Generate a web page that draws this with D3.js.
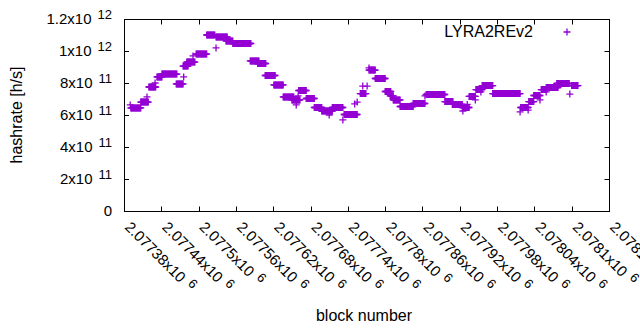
<!DOCTYPE html>
<html>
<head>
<meta charset="utf-8">
<script src="https://cdn.jsdelivr.net/npm/d3@7"></script>
<style>
    body { margin: 0; background: #fff; }
    svg { display: block; font-family: 'Liberation Sans', Arial, sans-serif; }
</style>
</head>
<body>
<svg id="chart" width="640" height="330"></svg>
<script>
'use strict';

// hashrate runs: from block, to block, rate [h/s]
const runFrom = [
    2077390, 2077391, 2077407, 2077417, 2077420, 2077430, 2077433, 2077441, 2077464, 2077476,
    2077475, 2077481, 2077491, 2077496, 2077513, 2077528, 2077528, 2077544, 2077555, 2077583,
    2077595, 2077607, 2077621, 2077636, 2077650, 2077657, 2077660, 2077661, 2077673, 2077686,
    2077698, 2077710, 2077715, 2077732, 2077734, 2077751, 2077755, 2077760, 2077764, 2077771,
    2077774, 2077774, 2077784, 2077800, 2077808, 2077813, 2077824, 2077845, 2077864, 2077866,
    2077896, 2077908, 2077924, 2077925, 2077932, 2077935, 2077945, 2077946, 2077954, 2077957,
    2077956, 2077973, 2078017, 2078018, 2078030, 2078031, 2078039, 2078049, 2078051, 2078059,
    2078059, 2078076, 2078097, 2078100
];
const runTo = [
    2077390, 2077407, 2077419, 2077417, 2077431, 2077430, 2077441, 2077465, 2077475, 2077476,
    2077483, 2077494, 2077491, 2077513, 2077526, 2077528, 2077546, 2077555, 2077584, 2077597,
    2077608, 2077623, 2077636, 2077653, 2077663, 2077657, 2077660, 2077673, 2077686, 2077698,
    2077715, 2077710, 2077732, 2077732, 2077755, 2077751, 2077755, 2077769, 2077764, 2077771,
    2077774, 2077784, 2077800, 2077809, 2077813, 2077824, 2077845, 2077864, 2077864, 2077896,
    2077909, 2077924, 2077935, 2077925, 2077932, 2077945, 2077945, 2077956, 2077954, 2077957,
    2077973, 2078017, 2078017, 2078030, 2078030, 2078039, 2078049, 2078049, 2078060, 2078059,
    2078078, 2078096, 2078097, 2078110
];
const runRate = [
    6.63e11, 6.44e11, 6.81e11, 7.13e11, 7.75e11, 8.00e11, 8.38e11, 8.56e11, 7.94e11, 8.38e11,
    9.06e11, 9.31e11, 9.69e11, 9.81e11, 11.0e11, 10.19e11, 10.88e11, 10.63e11, 10.47e11, 9.38e11,
    9.22e11, 8.47e11, 7.88e11, 7.13e11, 6.94e11, 6.63e11, 7.19e11, 7.53e11, 7.03e11, 6.47e11,
    6.25e11, 6.00e11, 6.47e11, 5.69e11, 6.03e11, 6.69e11, 6.81e11, 7.34e11, 7.81e11, 7.81e11,
    8.94e11, 8.81e11, 8.28e11, 7.47e11, 7.19e11, 6.94e11, 6.53e11, 6.72e11, 7.19e11, 7.28e11,
    6.84e11, 6.66e11, 6.47e11, 6.25e11, 6.66e11, 7.16e11, 6.94e11, 7.59e11, 7.44e11, 7.81e11,
    7.84e11, 7.34e11, 6.19e11, 6.47e11, 6.31e11, 6.84e11, 7.22e11, 6.94e11, 7.59e11, 7.44e11,
    7.72e11, 7.97e11, 7.31e11, 7.84e11
];

const xTicks = [2077380, 2077440, 2077500, 2077560, 2077620, 2077680, 2077740,
    2077800, 2077860, 2077920, 2077980, 2078040, 2078100, 2078160];
const xTickMantissa = ['2.07738', '2.07744', '2.0775', '2.07756', '2.07762', '2.07768', '2.07774',
    '2.0778', '2.07786', '2.07792', '2.07798', '2.07804', '2.0781', '2.07816'];
const xTickPower = '6';

const yTicks = [0, 2e11, 4e11, 6e11, 8e11, 1e12, 1.2e12];
const yTickMantissa = ['0', '2', '4', '6', '8', '1', '1.2'];
const yTickPower = ['', '11', '11', '11', '11', '12', '12'];

const seriesName = 'LYRA2REv2';
const purple = '#9400d3';

const plotChart = () => {
    const vis = d3.select('#chart');
    const plot = {left: 124, right: 609, top: 19, bottom: 211};

    const x = d3.scaleLinear()
        .domain([xTicks[0], xTicks[xTicks.length - 1]])
        .range([plot.left, plot.right]);
    const y = d3.scaleLinear()
        .domain([0, 1.2e12])
        .range([plot.bottom, plot.top]);

    // one point per block inside every run
    const points = [];
    runFrom.forEach((from, i) => {
        for (let b = from; b <= runTo[i]; b++) points.push({block: b, rate: runRate[i]});
    });

    const plus = 'M-3.5,0H3.5M0,-3.5V3.5';

    // frame and mirrored ticks
    vis.append('rect')
        .attr('x', plot.left + 0.5)
        .attr('y', plot.top + 0.5)
        .attr('width', plot.right - plot.left)
        .attr('height', plot.bottom - plot.top)
        .attr('fill', 'none')
        .attr('stroke', '#000');

    const tickLen = 5;
    const axisG = vis.append('g').attr('stroke', '#000').attr('stroke-width', 1);

    axisG.selectAll('.ytl')
        .data(yTicks.slice(1, -1))
        .enter().append('path')
        .attr('d', d => {
            const py = Math.round(y(d)) + 0.5;
            return `M${plot.left},${py}h${tickLen}M${plot.right + 0.5},${py}h${-tickLen}`;
        });

    axisG.selectAll('.xtl')
        .data(xTicks.slice(1, -1))
        .enter().append('path')
        .attr('d', d => {
            const px = Math.round(x(d)) + 0.5;
            return `M${px},${plot.bottom + 0.5}v${-tickLen}M${px},${plot.top + 0.5}v${tickLen}`;
        });

    // y tick labels
    vis.append('g')
        .selectAll('text')
        .data(yTicks)
        .enter().append('text')
        .attr('x', 112)
        .attr('y', d => y(d) + 5)
        .attr('text-anchor', 'end')
        .attr('font-size', 15)
        .attr('fill', '#000')
        .each(function(d, i) {
            const t = d3.select(this);
            if (!yTickPower[i]) {
                t.text(yTickMantissa[i]);
                return;
            }
            t.append('tspan').text(`${yTickMantissa[i]}x10`);
            t.append('tspan').attr('dx', 6).attr('dy', -5).attr('font-size', 13).text(yTickPower[i]);
        });

    // x tick labels, rotated
    vis.append('g')
        .selectAll('text')
        .data(xTicks)
        .enter().append('text')
        .attr('transform', d => `translate(${x(d)},${plot.bottom + 17}) rotate(45)`)
        .attr('font-size', 15)
        .attr('fill', '#000')
        .each(function(d, i) {
            const t = d3.select(this);
            t.append('tspan').text(`${xTickMantissa[i]}x10`);
            t.append('tspan').attr('dx', 6).attr('dy', -5).attr('font-size', 13).text(xTickPower);
        });

    // axis titles
    vis.append('text')
        .attr('transform', `translate(22,${(plot.top + plot.bottom) / 2}) rotate(-90)`)
        .attr('text-anchor', 'middle')
        .attr('font-size', 16)
        .text('hashrate [h/s]');

    vis.append('text')
        .attr('x', 364)
        .attr('y', 321)
        .attr('text-anchor', 'middle')
        .attr('font-size', 16)
        .text('block number');

    // points
    vis.append('g')
        .selectAll('path')
        .data(points)
        .enter().append('path')
        .attr('d', plus)
        .attr('transform', d => `translate(${x(d.block)},${y(d.rate)})`)
        .attr('fill', 'none')
        .attr('stroke', purple)
        .attr('stroke-width', 1.3);

    // key
    vis.append('text')
        .attr('x', 533)
        .attr('y', 37)
        .attr('text-anchor', 'end')
        .attr('font-size', 16)
        .text(seriesName);
    vis.append('path')
        .attr('d', plus)
        .attr('transform', 'translate(567,32)')
        .attr('fill', 'none')
        .attr('stroke', purple)
        .attr('stroke-width', 1.3);
};

plotChart();
</script>
</body>
</html>
